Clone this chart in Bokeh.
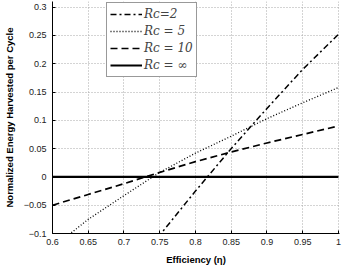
from bokeh.plotting import figure
from bokeh.models import Legend, LegendItem, Range1d, CustomJSTickFormatter, FixedTicker
from bokeh.embed import file_html
from bokeh.resources import INLINE

eta = [0.6, 0.65, 0.7, 0.75, 0.8, 0.85, 0.9, 0.95, 1.0]
e_rc2 = [-0.40, -0.29, -0.19, -0.103, -0.025, 0.05, 0.121, 0.190, 0.252]
e_rc5 = [-0.125, -0.075, -0.033, 0.008, 0.042, 0.072, 0.103, 0.131, 0.158]
e_rc10 = [-0.05, -0.031, -0.012, 0.008, 0.027, 0.044, 0.060, 0.075, 0.090]
e_rcinf = [0, 0, 0, 0, 0, 0, 0, 0, 0]
labels = ["R\u1d04=2", "R\u1d04 = 5", "R\u1d04 = 10", "R\u1d04 = \u221e"]
x_ticks = [0.6, 0.65, 0.7, 0.75, 0.8, 0.85, 0.9, 0.95, 1.0]
y_ticks = [-0.1, -0.05, 0, 0.05, 0.1, 0.15, 0.2, 0.25, 0.3]

p = figure(width=342, height=270, output_backend="svg", toolbar_location=None,
           x_range=Range1d(0.6, 1.0015), y_range=Range1d(-0.1, 0.31),
           min_border_left=43, min_border_right=3, min_border_top=1, min_border_bottom=37)
p.outline_line_color = None
p.background_fill_color = "white"

r1 = p.line(eta, e_rc2, line_color="black", line_width=1.5, line_dash="6 3 2 3")
r2 = p.line(eta, e_rc5, line_color="black", line_width=1.3, line_dash="1 2")
r3 = p.line(eta, e_rc10, line_color="black", line_width=1.7, line_dash="7 4")
r4 = p.line(eta, e_rcinf, line_color="black", line_width=2.2)

fmt = CustomJSTickFormatter(code="""
var v = Math.round(tick*100)/100;
return String(v).replace('-', '\u2212');
""")

for ax, ticks in ((p.xaxis[0], x_ticks), (p.yaxis[0], y_ticks)):
    ax.ticker = FixedTicker(ticks=ticks)
    ax.formatter = fmt
    ax.major_tick_in = 3
    ax.major_tick_out = 0
    ax.minor_tick_line_color = None
    ax.axis_line_color = "black"
    ax.axis_line_width = 1
    ax.major_label_text_font = "Liberation Sans"
    ax.major_label_text_font_size = "9px"
    ax.major_label_text_color = "#222222"
    ax.axis_label_text_font = "Liberation Sans"
    ax.axis_label_text_font_size = "9.5px"
    ax.axis_label_text_font_style = "bold"
    ax.axis_label_text_color = "black"

p.xaxis[0].axis_label = "Efficiency (\u03b7)"
p.yaxis[0].axis_label = "Normalized Energy Harvested per Cycle"
p.xaxis[0].major_label_standoff = 5
p.xaxis[0].axis_label_standoff = 6
p.yaxis[0].major_label_standoff = 6
p.yaxis[0].axis_label_standoff = 6

p.xgrid[0].ticker = FixedTicker(ticks=x_ticks)
p.ygrid[0].ticker = FixedTicker(ticks=y_ticks)
for g in (p.xgrid[0], p.ygrid[0]):
    g.grid_line_color = "#a8a8a8"
    g.grid_line_dash = "1 2"
    g.grid_line_width = 1

legend = Legend(items=[LegendItem(label=labels[0], renderers=[r1]),
                       LegendItem(label=labels[1], renderers=[r2]),
                       LegendItem(label=labels[2], renderers=[r3]),
                       LegendItem(label=labels[3], renderers=[r4])],
                location=(54, 156))
legend.margin = 0
legend.padding = 3
legend.spacing = 1
legend.glyph_width = 32
legend.glyph_height = 16
legend.label_height = 16
legend.label_standoff = 2
legend.label_text_font = "DejaVu Serif"
legend.label_text_font_style = "italic"
legend.label_text_font_size = "12px"
legend.border_line_color = "#333333"
legend.border_line_width = 1
legend.background_fill_alpha = 1
p.add_layout(legend, "center")

open("out.html", "w").write(file_html(p, INLINE))
